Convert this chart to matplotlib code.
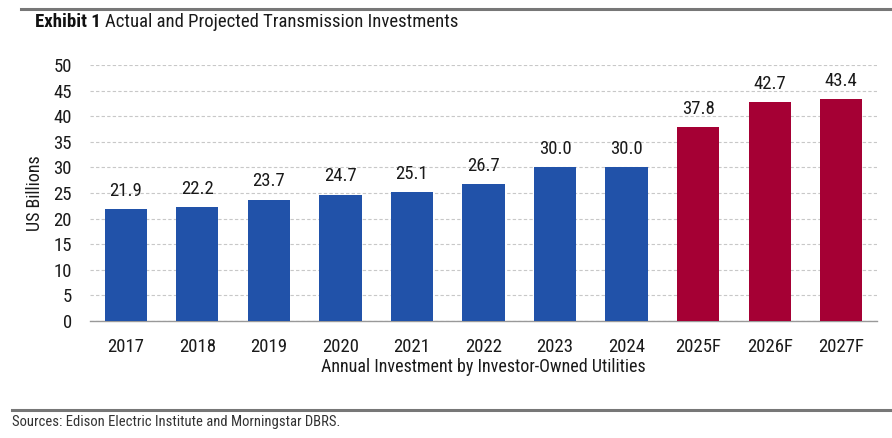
import matplotlib
matplotlib.use("Agg")
import matplotlib.pyplot as plt
from matplotlib import font_manager

names = {f.name for f in font_manager.fontManager.ttflist}
fam = 'DejaVu Sans'
for cand in ['Roboto Condensed', 'Archivo Narrow', 'Barlow Semi Condensed', 'Liberation Sans Narrow']:
    if cand in names:
        fam = cand
        break
plt.rcParams['font.family'] = [fam, 'DejaVu Sans']

categories = ["2017", "2018", "2019", "2020", "2021", "2022", "2023", "2024", "2025F", "2026F", "2027F"]
values = [21.9, 22.2, 23.7, 24.7, 25.1, 26.7, 30.0, 30.0, 37.8, 42.7, 43.4]
forecast = [False] * 8 + [True] * 3

blue = "#2152A9"
red = "#A50034"
text_col = "#1a1a1a"

fig = plt.figure(figsize=(8.92, 4.38), dpi=100)
ax = fig.add_axes([90/892, 1-321/438, (877-90)/892, (321-65)/438])

x = list(range(len(categories)))
colors = [red if f else blue for f in forecast]
ax.bar(x, values, width=0.59, color=colors, zorder=3)
for xi, v in zip(x, values):
    ax.text(xi, v + 1.8, f"{v:.1f}", ha='center', va='bottom', fontsize=13.5, color=text_col)

ax.set_xlim(-0.5, len(categories) - 0.5)
ax.set_ylim(0, 50)
ax.set_yticks(range(0, 51, 5))
ax.set_xticks(x)
ax.set_xticklabels(categories)
ax.tick_params(axis='both', length=0, labelsize=13.5, colors=text_col)
ax.tick_params(axis='x', pad=12)
ax.tick_params(axis='y', pad=13)
ax.grid(axis='y', color='#c8c8c8', linestyle=(0, (3, 2)), linewidth=0.8, zorder=0)
for s in ['top', 'right', 'left']:
    ax.spines[s].set_visible(False)
ax.spines['bottom'].set_color('#999999')
ax.spines['bottom'].set_linewidth(1.0)
ax.set_ylabel("US Billions", fontsize=13, color=text_col, labelpad=7)
ax.set_xlabel("Annual Investment by Investor-Owned Utilities", fontsize=13, color=text_col, labelpad=2)

# top and bottom rules
fig.add_artist(plt.Line2D([21/892, 1], [1-8.5/438, 1-8.5/438], color='#777777', linewidth=2.2))
fig.add_artist(plt.Line2D([12/892, 1], [1-410/438, 1-410/438], color='#777777', linewidth=2.2))

t1 = fig.text(35/892, 1-22/438, "Exhibit 1", fontsize=13.5, fontweight='bold', color='#111111', va='center', ha='left')
fig.canvas.draw()
bb = t1.get_window_extent(renderer=fig.canvas.get_renderer())
fig.text(bb.x1/892 + 4/892, 1-22/438, "Actual and Projected Transmission Investments", fontsize=13.5, color=text_col, va='center', ha='left')
fig.text(12/892, 1-422/438, "Sources: Edison Electric Institute and Morningstar DBRS.", fontsize=10.5, color='#333333', va='center', ha='left')

fig.savefig("out.png", dpi=100)
